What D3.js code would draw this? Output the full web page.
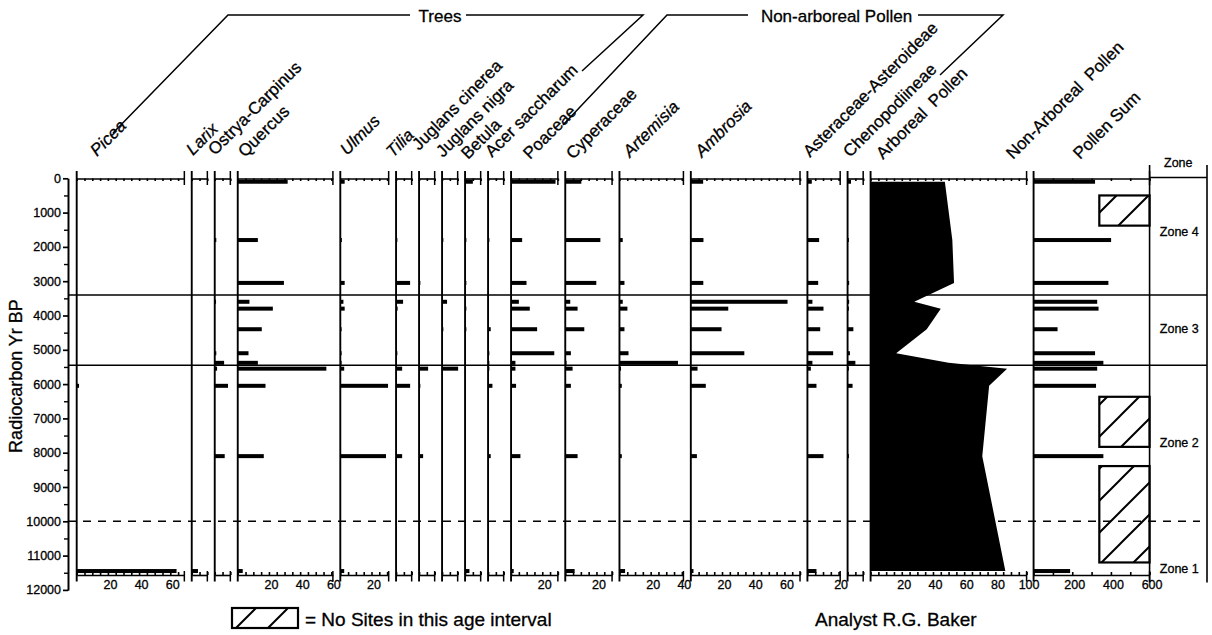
<!DOCTYPE html>
<html>
<head>
<meta charset="utf-8">
<script src="https://cdn.jsdelivr.net/npm/d3@7"></script>
<style>
  body { margin: 0; background: #fff; }
  svg text { font-family: "Liberation Sans", Arial, Helvetica, sans-serif; fill: #000; white-space: pre; }
  svg text.heavy { stroke: #000; stroke-width: 0.3px; }
</style>
</head>
<body>
<svg id="diagram" width="1212" height="635"></svg>
<script>
// sampled levels (radiocarbon yr BP)
let ages = [100, 1800, 3050, 3600, 3800, 4400, 5100, 5380, 5550, 6050, 8100, 11450];

// percentages per level
let picea      = [0, 0, 0, 0, 0, 0, 0, 0, 0, 1.5, 0, 64];
let larix      = [0, 0, 0, 0, 0, 0, 0, 0, 0, 0, 0, 4];
let ostrya     = [0, 1, 0, 0.5, 0, 0, 1, 6, 1.5, 8.5, 6.4, 0];
let quercus    = [32, 12.9, 29.6, 7.5, 22.5, 15.4, 6.9, 12.9, 56.8, 17.8, 16.7, 3.2];
let ulmus      = [2.8, 1, 2.8, 2, 2.8, 0.8, 0.5, 0.8, 2.5, 30.6, 29.3, 2.5];
let tilia      = [0, 0.5, 9, 4.5, 1, 0, 0.5, 0, 3.9, 9, 3.9, 0];
let juglansCin = [0, 0, 0.3, 0, 0, 0, 0, 0, 5.8, 0.5, 2.6, 0];
let juglansNig = [0, 0.3, 0, 3.2, 0, 0.5, 0, 0, 10.3, 0, 0, 0];
let betula     = [5, 0.5, 0.5, 0, 0.5, 0.5, 0, 0, 0, 0, 0, 2.8];
let acer       = [0, 0.3, 0, 0, 0, 1.7, 0.8, 0.3, 0.5, 2.8, 1.7, 0];
let poaceae    = [28.5, 7.1, 9.9, 5, 12, 16.7, 27.7, 2.8, 2.8, 3.2, 6, 1.7];
let cyperaceae = [10.3, 22.5, 19.9, 3.2, 7.9, 12.2, 3.6, 0.5, 4.7, 3.6, 7.9, 6];
let artemisia  = [0, 2.1, 3.2, 2.1, 5.1, 3.2, 5.8, 37.5, 1, 1.5, 1.5, 3.6];
let ambrosia   = [7.9, 8.1, 8, 62, 24, 19.7, 34.3, 0, 4.3, 9.6, 3.9, 1.7];
let asteraceae = [2.8, 7.5, 6.9, 3.2, 10.3, 8.2, 16.5, 3.2, 2.2, 5.8, 10.3, 5.8];
let cheno      = [2.2, 0.3, 1, 1, 0.5, 3.7, 1.5, 5, 0.5, 3.2, 0.3, 0];

let arboreal   = [47.6, 52.4, 53.5, 28, 45, 36, 16.4, 50, 87.5, 76, 71.6, 86.4];
let pollenSum  = [318, 401, 387, 329, 336, 124, 318, 361, 329, 323, 361, 189];

let taxa = ["Picea", "Larix", "Ostrya-Carpinus", "Quercus", "Ulmus", "Tilia", "Juglans cinerea",
            "Juglans nigra", "Betula", "Acer saccharum", "Poaceae", "Cyperaceae", "Artemisia",
            "Ambrosia", "Asteraceae-Asteroideae", "Chenopodiineae"];
let taxaValues = [picea, larix, ostrya, quercus, ulmus, tilia, juglansCin, juglansNig, betula,
                  acer, poaceae, cyperaceae, artemisia, ambrosia, asteraceae, cheno];
let axisMax = [69, 10, 10, 61, 31, 10, 10, 10, 10, 10, 30, 30, 41, 70, 21, 10];
let italicTaxa = ["Picea", "Larix", "Ulmus", "Tilia", "Artemisia", "Ambrosia"];

// age intervals without sites
let noSiteFrom = [500, 6370, 8390];
let noSiteTo   = [1380, 7830, 11200];

let zoneBreaks = [3400, 5450];
let zoneNames  = ["Zone 4", "Zone 3", "Zone 2", "Zone 1"];
let zoneMid    = [1560, 4370, 7710, 11370];

// where each rotated header label starts (layout only)
let headLabels = ["Picea", "Larix", "Ostrya-Carpinus", "Quercus", "Ulmus", "Tilia", "Juglans cinerea",
  "Juglans nigra", "Betula", "Acer saccharum", "Poaceae", "Cyperaceae", "Artemisia", "Ambrosia",
  "Asteraceae-Asteroideae", "Chenopodiineae", "Arboreal  Pollen", "Non-Arboreal  Pollen", "Pollen Sum"];
let headPos = [[97,157],[193,156],[215,156],[245,158],[347,156],[393,158],[419,151],[443,158],[468,160],
  [492,158],[530,160],[573,160],[630,158],[702,158],[810,158],[850,158],[883,160],[1013,160],[1080,160]];

let svg = d3.select("#diagram");

let y = d3.scaleLinear().domain([0, 12000]).range([178.3, 589.9]);
let topY = 178.5, botY = 575;
let k = 1.56, gap = 7.4;

// panel scales laid out left to right
let cursor = 76.7;
let panels = taxa.map((name, i) => {
  let sc = d3.scaleLinear().domain([0, axisMax[i]]).range([cursor, cursor + axisMax[i] * k]);
  cursor += axisMax[i] * k + gap;
  return {name: name, values: taxaValues[i], scale: sc};
});
let arbScale = d3.scaleLinear().domain([0, 100]).range([cursor, cursor + 100 * k]);
cursor += 100 * k + 7;
let sumScale = d3.scaleLinear().domain([0, 600]).range([cursor, cursor + 116]);
let zoneRight = 1207;

function frame(sc, step, labelEvery) {
  let [a, b] = sc.range();
  let ticks = d3.range(0, sc.domain()[1] + 1e-6, step);
  let g = svg.append("g");
  g.append("line").attr("x1", a).attr("x2", a).attr("y1", 171).attr("y2", 581.5)
    .attr("stroke", "#000").attr("stroke-width", 1.9);
  let top = g.append("g").attr("transform", `translate(0,${topY})`)
    .call(d3.axisBottom(sc).tickValues(ticks).tickSize(2.5).tickSizeOuter(0).tickFormat(""));
  let bot = g.append("g").attr("transform", `translate(0,${botY})`)
    .call(d3.axisBottom(sc).tickValues(ticks).tickSize(-3).tickSizeOuter(0).tickPadding(5)
      .tickFormat(d => d > 0 && d % labelEvery === 0 ? d : ""));
  [top, bot].forEach(ax => {
    ax.attr("font-size", 12.5).attr("font-family", null);
    ax.selectAll("path, line").attr("stroke-width", 1.6);
    ax.selectAll("text").attr("dx", 2).attr("class", "heavy");
  });
  // right end marks
  g.append("line").attr("x1", b).attr("x2", b).attr("y1", 171).attr("y2", 185).attr("stroke", "#000").attr("stroke-width", 1.5);
  g.append("line").attr("x1", b).attr("x2", b).attr("y1", 571).attr("y2", 581.5).attr("stroke", "#000").attr("stroke-width", 1.5);
  return g;
}

function bars(g, sc, values) {
  let base = sc(0);
  let rows = ages.map((a, j) => ({age: a, v: values[j]})).filter(d => d.v > 0);
  g.selectAll("rect.bar").data(rows).join("rect")
    .attr("class", "bar")
    .attr("x", base)
    .attr("y", d => y(d.age) - 2)
    .attr("width", d => Math.max(sc(d.v) - base, 1.3))
    .attr("height", 4)
    .attr("fill", "#000");
}

// taxa panels
panels.forEach(p => {
  let g = frame(p.scale, 5, 20);
  bars(g, p.scale, p.values);
});

// arboreal pollen silhouette
let arbG = frame(arbScale, 5, 20);
let arbArea = d3.area()
  .y(d => y(d.age))
  .x0(arbScale(0))
  .x1(d => arbScale(d.v));
arbG.append("path")
  .datum(ages.map((a, j) => ({age: a, v: arboreal[j]})))
  .attr("d", arbArea)
  .attr("fill", "#000");

// pollen sum
let sumG = frame(sumScale, 100, 200);
bars(sumG, sumScale, pollenSum);

// hatched "no sites" boxes
let defs = svg.append("defs");
defs.append("pattern").attr("id", "hatch").attr("patternUnits", "userSpaceOnUse")
  .attr("width", 32).attr("height", 32)
  .append("path").attr("d", "M0,32 L32,0 M-8,8 L8,-8 M24,40 L40,24")
  .attr("stroke", "#000").attr("stroke-width", 2);

svg.selectAll("rect.nosite").data(noSiteFrom.map((f, i) => ({from: f, to: noSiteTo[i]}))).join("rect")
  .attr("class", "nosite")
  .attr("x", sumScale(340))
  .attr("y", d => y(d.from))
  .attr("width", sumScale(600) - sumScale(340))
  .attr("height", d => y(d.to) - y(d.from))
  .attr("fill", "url(#hatch)")
  .attr("stroke", "#000").attr("stroke-width", 2.2);

// zone column
let zoneLeft = sumScale(600);
svg.append("line").attr("x1", zoneLeft).attr("x2", zoneRight).attr("y1", topY - 1).attr("y2", topY - 1).attr("stroke", "#000").attr("stroke-width", 1.5);
[zoneLeft, zoneRight].forEach(xx => {
  svg.append("line").attr("x1", xx).attr("x2", xx).attr("y1", 165).attr("y2", 582.5).attr("stroke", "#000").attr("stroke-width", 1.6);
});
svg.append("text").attr("x", (zoneLeft + zoneRight) / 2).attr("y", 167).attr("text-anchor", "middle")
  .attr("font-size", 12.5).attr("class", "heavy").text("Zone");
svg.selectAll("text.zone").data(zoneNames).join("text")
  .attr("class", "zone heavy")
  .attr("x", (zoneLeft + zoneRight) / 2 + 1)
  .attr("y", (d, i) => y(zoneMid[i]) + 4.5)
  .attr("text-anchor", "middle").attr("font-size", 12.5)
  .text(d => d);

// zone boundaries and 10000 line
svg.selectAll("line.zb").data(zoneBreaks).join("line")
  .attr("class", "zb")
  .attr("x1", 68).attr("x2", zoneRight)
  .attr("y1", d => y(d)).attr("y2", d => y(d))
  .attr("stroke", "#000").attr("stroke-width", 1.5);
svg.append("line").attr("x1", 68).attr("x2", 1200).attr("y1", y(10000)).attr("y2", y(10000))
  .attr("stroke", "#000").attr("stroke-width", 1.4).attr("stroke-dasharray", "8,7");

// age axis
let yAxis = svg.append("g").attr("transform", "translate(68,0)")
  .call(d3.axisLeft(y).tickValues(d3.range(0, 12001, 1000)).tickSize(5).tickSizeOuter(0).tickPadding(2).tickFormat(d3.format("d")));
yAxis.attr("font-size", 12.5).attr("font-family", null);
yAxis.selectAll("path, line").attr("stroke-width", 1.7);
yAxis.selectAll("text").attr("class", "heavy");
let yMinor = svg.append("g").attr("transform", "translate(68,0)")
  .call(d3.axisLeft(y).tickValues(d3.range(500, 12000, 1000)).tickSize(4).tickSizeOuter(0).tickFormat(""));
yMinor.selectAll("path, line").attr("stroke-width", 1.4);

svg.append("text").attr("transform", "translate(22,376) rotate(-90)").attr("class", "heavy")
  .attr("text-anchor", "middle").attr("font-size", 18).text("Radiocarbon Yr BP");

// rotated header labels
svg.selectAll("text.head").data(headLabels).join("text")
  .attr("class", "head heavy")
  .attr("transform", (d, i) => `translate(${headPos[i][0]},${headPos[i][1]}) rotate(-45)`)
  .attr("font-size", 17)
  .attr("font-style", d => italicTaxa.includes(d) ? "italic" : "normal")
  .text(d => d);

// group brackets
let bracket = svg.append("g").attr("fill", "none").attr("stroke", "#000").attr("stroke-width", 1.5);
bracket.append("path").attr("d", "M113,133 L228,15 L410,15");
bracket.append("path").attr("d", "M466,15 L643,15 L582,71");
bracket.append("path").attr("d", "M563,125 L667,15 L748,15");
bracket.append("path").attr("d", "M918,15 L1003,15 L940,75");
svg.append("text").attr("x", 440).attr("y", 21.5).attr("text-anchor", "middle").attr("font-size", 17).attr("class", "heavy").text("Trees");
svg.append("text").attr("x", 836.5).attr("y", 21.5).attr("text-anchor", "middle").attr("font-size", 17).attr("class", "heavy").text("Non-arboreal Pollen");

// legend and credit
svg.append("rect").attr("x", 232).attr("y", 608).attr("width", 66).attr("height", 20)
  .attr("fill", "url(#hatch)").attr("stroke", "#000").attr("stroke-width", 2.2);
svg.append("text").attr("x", 305).attr("y", 625.5).attr("font-size", 19).attr("class", "heavy").text("= No Sites in this age interval");
svg.append("text").attr("x", 815).attr("y", 626).attr("font-size", 19).attr("class", "heavy").text("Analyst R.G. Baker");
</script>
</body>
</html>
